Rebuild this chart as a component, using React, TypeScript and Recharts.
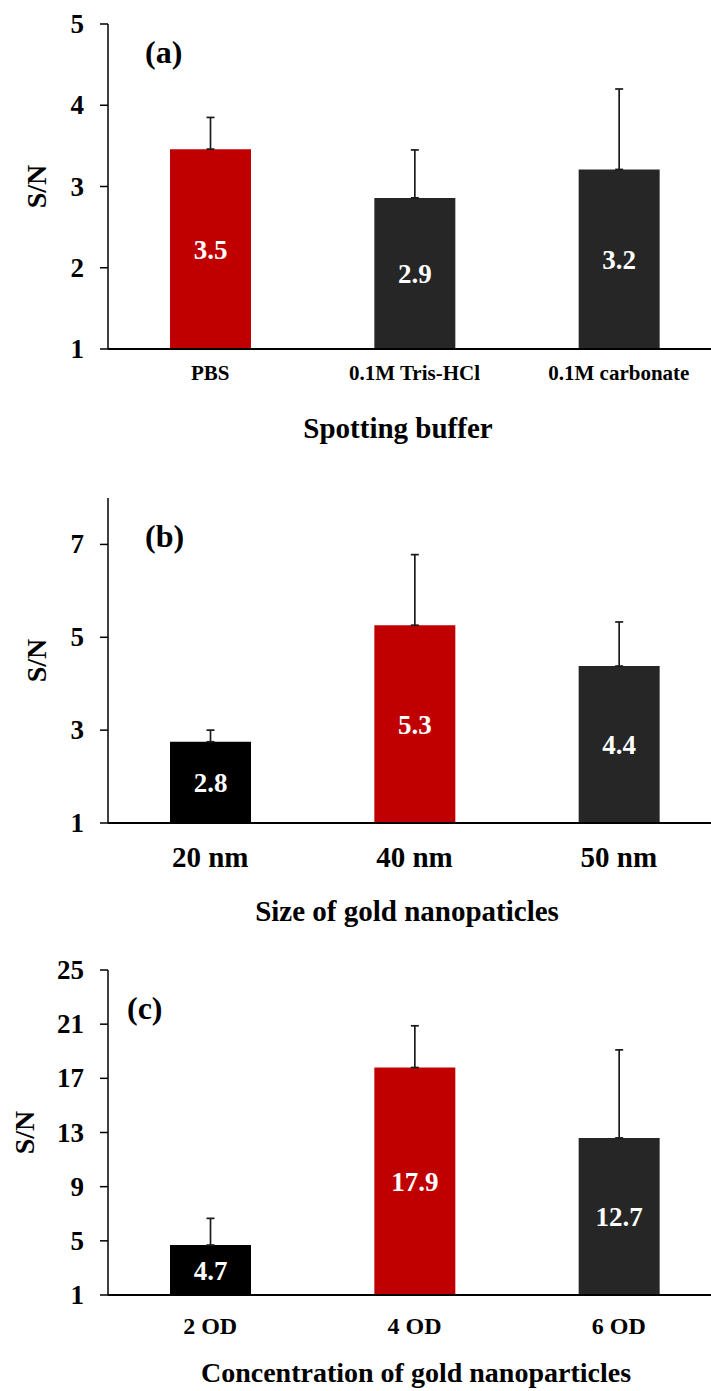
import React from 'react';
import { BarChart, Bar, XAxis, YAxis, Cell, ErrorBar, LabelList, Label } from 'recharts';

const FONT = "'Liberation Serif', 'Times New Roman', serif";
const RED = '#C00000';
const DARK = '#262626';
const BLACK = '#000000';

// (a) spotting buffer
const bufferNames = ['PBS', '0.1M Tris-HCl', '0.1M carbonate'];
const bufferValues = [3.46, 2.86, 3.21];
const bufferErrors = [0.39, 0.59, 0.99];
const bufferText = ['3.5', '2.9', '3.2'];
const bufferColors = [RED, DARK, DARK];
const bufferTicks = [1, 2, 3, 4, 5];

// (b) particle size
const sizeNames = ['20 nm', '40 nm', '50 nm'];
const sizeValues = [2.75, 5.26, 4.38];
const sizeErrors = [0.25, 1.52, 0.95];
const sizeText = ['2.8', '5.3', '4.4'];
const sizeColors = [BLACK, RED, DARK];
const sizeTicks = [1, 3, 5, 7];

// (c) concentration
const concNames = ['2 OD', '4 OD', '6 OD'];
const concValues = [4.69, 17.8, 12.6];
const concErrors = [1.97, 3.08, 6.5];
const concText = ['4.7', '17.9', '12.7'];
const concColors = [BLACK, RED, DARK];
const concTicks = [1, 5, 9, 13, 17, 21, 25];

const buildRows = (names: string[], values: number[], errors: number[], text: string[], colors: string[]) =>
    names.map((name, i) => ({ name, value: values[i], err: [0, errors[i]], text: text[i], color: colors[i] }));

interface PanelProps {
    top: number;
    height: number;
    marginTop: number;
    rows: any[];
    domain: [number, number];
    ticks: number[];
    catFont: number;
    catOffset: number;
    title: string;
    titleX: number;
    titleOffset: number;
    titleFont: number;
    yLabelX: number;
    tag: string;
    tagX: number;
    tagY: number;
}

const Panel: React.FC<PanelProps> = (p) => {
    const XTick = (props: any) => (
        <text x={props.x} y={props.y + p.catOffset} textAnchor="middle" dominantBaseline="central"
            fontFamily={FONT} fontWeight="bold" fontSize={p.catFont} fill="#000">
            {props.payload.value}
        </text>
    );
    const YTick = (props: any) => (
        <text x={props.x - 16} y={props.y} textAnchor="end" dominantBaseline="central"
            fontFamily={FONT} fontWeight="bold" fontSize={27} fill="#000">
            {props.payload.value}
        </text>
    );
    return (
        <div style={{ position: 'absolute', left: 0, top: p.top, width: 730, height: p.height }}>
            <BarChart width={730} height={p.height} data={p.rows}
                margin={{ top: p.marginTop, right: 9, left: 0, bottom: 0 }}>
                <XAxis dataKey="name" tickLine={false} tickSize={0} tickMargin={0} tick={XTick}
                    axisLine={{ stroke: '#000', strokeWidth: 2 }} height={p.height - p.marginTop - 325}>
                    <Label content={(lp: any) => (
                        <text x={p.titleX} y={lp.viewBox.y + p.titleOffset} textAnchor="middle" dominantBaseline="central"
                            fontFamily={FONT} fontWeight="bold" fontSize={p.titleFont} fill="#000">
                            {p.title}
                        </text>
                    )} />
                </XAxis>
                <YAxis type="number" domain={p.domain} ticks={p.ticks} interval={0} width={108}
                    tickSize={8} tickMargin={0} tick={YTick} allowDataOverflow
                    axisLine={{ stroke: '#000', strokeWidth: 1.5 }} tickLine={{ stroke: '#000', strokeWidth: 1.5 }}>
                    <Label content={(lp: any) => {
                        const cy = lp.viewBox.y + lp.viewBox.height / 2;
                        return (
                            <text x={p.yLabelX} y={cy} transform={`rotate(-90 ${p.yLabelX} ${cy})`} textAnchor="middle"
                                dominantBaseline="central" fontFamily={FONT} fontWeight="bold" fontSize={28} fill="#000">
                                S/N
                            </text>
                        );
                    }} />
                </YAxis>
                <Bar dataKey="value" barSize={81} isAnimationActive={false}>
                    {p.rows.map((r, i) => (
                        <Cell key={`c-${i}`} fill={r.color} />
                    ))}
                    <ErrorBar dataKey="err" direction="y" width={4} stroke="#1a1a1a" strokeWidth={1.7} />
                    <LabelList dataKey="text" position="center" fill="#fff" fontFamily={FONT}
                        fontWeight="bold" fontSize={27} />
                </Bar>
            </BarChart>
            <div style={{ position: 'absolute', left: p.tagX, top: p.tagY, fontFamily: FONT, fontWeight: 'bold',
                fontSize: 32, lineHeight: '32px', color: '#000' }}>
                {p.tag}
            </div>
        </div>
    );
};

export default function App() {
    return (
        <div style={{ position: 'absolute', left: 0, top: 0, width: 711, height: 1391, overflow: 'hidden', background: '#fff' }}>
            <Panel top={0} height={445} marginTop={24}
                rows={buildRows(bufferNames, bufferValues, bufferErrors, bufferText, bufferColors)}
                domain={[1, 5]} ticks={bufferTicks} catFont={21} catOffset={24}
                title="Spotting buffer" titleX={398} titleOffset={79} titleFont={29} yLabelX={36}
                tag="(a)" tagX={145} tagY={36} />
            <Panel top={445} height={485} marginTop={53}
                rows={buildRows(sizeNames, sizeValues, sizeErrors, sizeText, sizeColors)}
                domain={[1, 8]} ticks={sizeTicks} catFont={29} catOffset={34}
                title="Size of gold nanopaticles" titleX={407} titleOffset={88} titleFont={29} yLabelX={36}
                tag="(b)" tagX={145} tagY={75} />
            <Panel top={930} height={461} marginTop={40}
                rows={buildRows(concNames, concValues, concErrors, concText, concColors)}
                domain={[1, 25]} ticks={concTicks} catFont={24} catOffset={31}
                title="Concentration of gold nanoparticles" titleX={416} titleOffset={77} titleFont={28} yLabelX={24}
                tag="(c)" tagX={127} tagY={62} />
        </div>
    );
}
